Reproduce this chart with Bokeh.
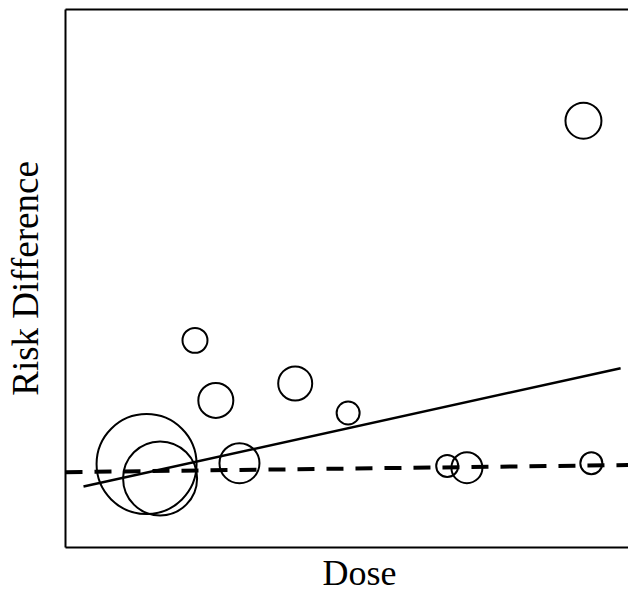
from bokeh.plotting import figure
from bokeh.models import Range1d, LinearAxis, FixedTicker, Title, ColumnDataSource
from bokeh.embed import file_html
from bokeh.resources import INLINE

# --- data ---
dose = [14.4, 16.8, 30.9, 23.0, 26.7, 40.8, 50.2, 67.8, 71.3, 93.4, 92.0]
risk_diff = [-0.007, -0.023, -0.006, 0.131, 0.064, 0.083, 0.050, -0.009, -0.011, -0.006, 0.376]
weight = [100, 74, 40, 25, 35, 34, 23, 22, 31, 22, 36]   # circle diameters (study weight)

fit_x = [3.2, 98.6]            # weighted meta-regression line
fit_y = [-0.032, 0.100]
null_x = [0.0, 100.0]          # dashed reference line
null_y = [-0.016, -0.008]

FONT = "Liberation Serif"

p = figure(frame_width=563, frame_height=538,
           x_range=Range1d(0, 100), y_range=Range1d(-0.1, 0.5),
           output_backend="svg", toolbar_location=None,
           min_border_left=65, min_border_right=0, min_border_top=9, min_border_bottom=0)

p.outline_line_color = None
p.grid.visible = False
p.background_fill_color = "white"
p.border_fill_color = "white"

top_axis = LinearAxis()
p.add_layout(top_axis, "above")

axes = list(p.below) + list(p.left) + [top_axis]
for ax in axes:
    ax.ticker = FixedTicker(ticks=[])
    ax.axis_line_width = 2
    ax.axis_line_color = "black"
    ax.major_tick_out = 0
    ax.major_tick_in = 0
    ax.minor_tick_out = 0
    ax.minor_tick_in = 0
    ax.major_label_standoff = 0
    ax.major_label_text_font_size = "0px"

yax = p.left[0]
yax.axis_label = "Risk Difference"
yax.axis_label_text_font = FONT
yax.axis_label_text_font_size = "37px"
yax.axis_label_text_font_style = "normal"
yax.axis_label_text_color = "black"
yax.axis_label_standoff = 20

p.add_layout(Title(text="Dose", align="left", offset=257, text_font=FONT,
                   text_font_size="36px", text_font_style="normal",
                   text_color="black", standoff=7), "below")

src = ColumnDataSource(dict(x=dose, y=risk_diff, s=weight))
p.scatter("x", "y", size="s", source=src, marker="circle",
          fill_color=None, line_color="black", line_width=2)

p.line(fit_x, fit_y, line_color="black", line_width=2.5)
p.line(null_x, null_y, line_color="black", line_width=4, line_dash="17 12")

open("out.html", "w").write(file_html(p, INLINE))
